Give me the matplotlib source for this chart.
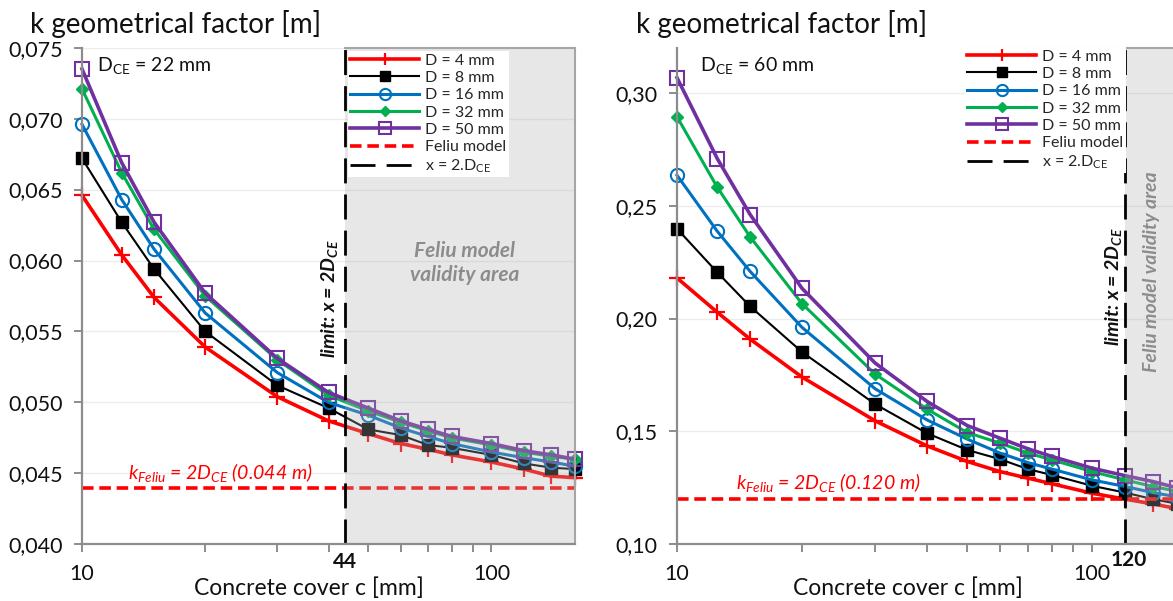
import matplotlib
matplotlib.use("Agg")
import matplotlib.pyplot as plt
from matplotlib.ticker import MultipleLocator, FuncFormatter, LogLocator, NullFormatter, FixedLocator

plt.rcParams['font.family'] = ['Lato', 'DejaVu Sans']
plt.rcParams['mathtext.fontset'] = 'custom'
plt.rcParams['mathtext.rm'] = 'Lato'
plt.rcParams['mathtext.it'] = 'Lato:italic'
plt.rcParams['mathtext.bf'] = 'Lato:bold'
plt.rcParams['mathtext.bfit'] = 'Lato:italic:bold'

# ---------------- data ----------------
cover = [10, 12.5, 15, 20, 30, 40, 50, 60, 70, 80, 100, 120, 140, 160]
series_labels = ['D = 4 mm', 'D = 8 mm', 'D = 16 mm', 'D = 32 mm', 'D = 50 mm']

# D_CE = 22 mm
k22_d4 = [0.0646, 0.0604, 0.0574, 0.0539, 0.0504, 0.0487, 0.0478, 0.0471, 0.0467, 0.0463, 0.0458, 0.0453, 0.0448, 0.0447]
k22_d8 = [0.0672, 0.0627, 0.0594, 0.0550, 0.0512, 0.0496, 0.0481, 0.0477, 0.0470, 0.0468, 0.0463, 0.0457, 0.0454, 0.0453]
k22_d16 = [0.0696, 0.0643, 0.0608, 0.0563, 0.0521, 0.0500, 0.0491, 0.0482, 0.0476, 0.0471, 0.0465, 0.0461, 0.0458, 0.0455]
k22_d32 = [0.0721, 0.0662, 0.0622, 0.0575, 0.0530, 0.0505, 0.0494, 0.0486, 0.0480, 0.0475, 0.0470, 0.0465, 0.0462, 0.0460]
k22_d50 = [0.0735, 0.0669, 0.0627, 0.0577, 0.0531, 0.0507, 0.0496, 0.0487, 0.0481, 0.0476, 0.0471, 0.0466, 0.0463, 0.0460]

# D_CE = 60 mm
k60_d4 = [0.218, 0.2028, 0.1909, 0.1741, 0.1547, 0.1436, 0.1367, 0.1322, 0.1293, 0.1268, 0.1226, 0.1200, 0.1179, 0.1158]
k60_d8 = [0.2398, 0.2205, 0.2054, 0.1852, 0.1621, 0.1492, 0.1418, 0.1377, 0.1333, 0.1307, 0.1259, 0.1229, 0.1200, 0.1180]
k60_d16 = [0.2635, 0.2387, 0.2209, 0.1961, 0.1689, 0.1551, 0.1466, 0.1404, 0.1362, 0.1333, 0.1285, 0.1256, 0.1229, 0.1210]
k60_d32 = [0.2894, 0.2582, 0.2362, 0.2066, 0.1754, 0.1599, 0.1495, 0.1448, 0.1404, 0.1374, 0.1322, 0.1285, 0.1256, 0.1235]
k60_d50 = [0.3067, 0.2709, 0.2461, 0.2134, 0.1803, 0.1633, 0.1526, 0.1470, 0.1423, 0.1389, 0.1337, 0.1304, 0.1278, 0.1250]

dce_left = 22
dce_right = 60
feliu_left = 0.044
feliu_right = 0.120
limit_left = 44
limit_right = 120

# ---------------- styles ----------------
styles = [
    dict(color='#FF0000', marker='+', ms=11, mew=1.6, lw=2.6, mfc='#FF0000'),
    dict(color='#000000', marker='s', ms=8.5, mew=1, lw=1.5, mfc='#000000'),
    dict(color='#0070C0', marker='o', ms=9.5, mew=1.5, lw=2.2, mfc='none'),
    dict(color='#00B050', marker='D', ms=6.5, mew=1, lw=2.2, mfc='#00B050'),
    dict(color='#7030A0', marker='s', ms=10.5, mew=1.5, lw=2.6, mfc='none'),
]

W, H = 1173, 601
fig = plt.figure(figsize=(W / 100, H / 100), dpi=100)

def fx(px):
    return px / W

def fy(py):
    return 1 - py / H

axL = fig.add_axes([fx(82), fy(544.3), 493 / W, 496.6 / H])
axR = fig.add_axes([fx(677), fy(544.3), 500 / W, 496.6 / H])

spine_col = '#8c8c8c'
shade_fc = (0.69, 0.69, 0.69, 0.30)


def setup(ax, ylo, yhi, ystep, fmt):
    ax.set_xscale('log')
    ax.set_xlim(10, 160)
    ax.set_ylim(ylo, yhi)
    ax.xaxis.set_major_locator(FixedLocator([10, 100]))
    ax.xaxis.set_major_formatter(FuncFormatter(lambda v, p: f'{v:.0f}'))
    ax.xaxis.set_minor_locator(LogLocator(base=10, subs=(2, 3, 4, 5, 6, 7, 8, 9)))
    ax.xaxis.set_minor_formatter(NullFormatter())
    ax.yaxis.set_major_locator(MultipleLocator(ystep))
    ax.yaxis.set_major_formatter(FuncFormatter(lambda v, p: fmt.format(v).replace('.', ',')))
    for s in ['top', 'right']:
        ax.spines[s].set_visible(False)
    for s in ['left', 'bottom']:
        ax.spines[s].set_color(spine_col)
        ax.spines[s].set_linewidth(1.6)
        ax.spines[s].set_zorder(6)
    ax.tick_params(axis='both', which='both', direction='out', color=spine_col, width=1.4, length=6,
                   labelsize=15.5, labelcolor='#111111')
    ax.tick_params(axis='x', which='major', pad=8)
    ax.tick_params(axis='y', which='major', pad=8)
    ax.grid(axis='y', color='#ececec', lw=1.0, zorder=0)
    ax.set_axisbelow(True)


def draw(ax, data, feliu, limit, ylo, yhi):
    handles = []
    for vals, lab, st in zip(data, series_labels, styles):
        h, = ax.plot(cover, vals, label=lab, zorder=2, clip_on=False, **st)
        handles.append(h)
    hf, = ax.plot([10, 160], [feliu, feliu], ls=(0, (3.2, 1.6)), color='#FF0000', lw=2.6,
                  label='Feliu model', zorder=2)
    ax.axvspan(limit, 160, facecolor=shade_fc, edgecolor='none', zorder=3)
    hl = ax.axvline(limit, color='#000000', lw=2.0, ls=(0, (9, 4)), zorder=4,
                    label=r'x = 2.D$_{\mathregular{CE}}$')
    ax.plot([160, 160], [ylo, yhi], color='#a6a6a6', lw=1.5, zorder=4, clip_on=False)
    handles += [hf, hl]
    return handles


setup(axL, 0.040, 0.075, 0.005, '{:.3f}')
setup(axR, 0.10, 0.32, 0.05, '{:.2f}')

hL = draw(axL, [k22_d4, k22_d8, k22_d16, k22_d32, k22_d50], feliu_left, limit_left, 0.040, 0.075)
hR = draw(axR, [k60_d4, k60_d8, k60_d16, k60_d32, k60_d50], feliu_right, limit_right, 0.10, 0.32)

axL.plot([limit_left, 160], [0.075, 0.075], color='#a6a6a6', lw=1.5, zorder=4, clip_on=False)
axR.plot([50, 160], [0.32, 0.32], color='#a6a6a6', lw=1.5, zorder=4, clip_on=False)


def legend(ax, handles, x0, y0):
    leg = ax.legend(handles=handles, loc='upper left', bbox_to_anchor=(fx(x0), fy(y0)),
                    bbox_transform=fig.transFigure, fontsize=11.5, numpoints=1,
                    handlelength=4.3, handletextpad=0.4, labelspacing=0.2,
                    borderpad=0.15, borderaxespad=0, frameon=True, fancybox=False,
                    facecolor='white', edgecolor='none', framealpha=1, markerscale=0.85)
    for t in leg.get_texts():
        t.set_color('#262626')
    leg.set_zorder(10)
    return leg


legend(axL, hL, 348, 51)
legend(axR, hR, 965, 47)

# titles (y-axis labels at top)
fig.text(fx(30), fy(33), 'k geometrical factor [m]', fontsize=20, color='#111111', va='baseline', ha='left')
fig.text(fx(636), fy(33), 'k geometrical factor [m]', fontsize=20, color='#111111', va='baseline', ha='left')

# x labels
fig.text(fx(309), fy(595), 'Concrete cover c [mm]', fontsize=16.5, color='#111111', va='baseline', ha='center')
fig.text(fx(908), fy(595), 'Concrete cover c [mm]', fontsize=16.5, color='#111111', va='baseline', ha='center')

# D_CE labels
fig.text(fx(97), fy(65), r'D$_{\mathregular{CE}}$ = ' + f'{dce_left} mm', fontsize=14, color='#111111',
         va='center', ha='left')
fig.text(fx(700), fy(65), r'D$_{\mathregular{CE}}$ = ' + f'{dce_right} mm', fontsize=14, color='#111111',
         va='center', ha='left')

# limit values under axis
fig.text(fx(345), fy(562), f'{limit_left}', fontsize=15, fontweight='bold', color='#111111',
         ha='center', va='center')
fig.text(fx(1129), fy(560), f'{limit_right}', fontsize=15, fontweight='bold', color='#111111',
         ha='center', va='center')

# limit labels (rotated)
lim_txt = r'limit: x = 2D$_{\mathbfit{CE}}$'
fig.text(fx(329), fy(299), lim_txt, fontsize=14, fontweight='bold', style='italic', color='#111111',
         rotation=90, ha='center', va='center')
fig.text(fx(1113), fy(287), lim_txt, fontsize=14, fontweight='bold', style='italic', color='#111111',
         rotation=90, ha='center', va='center')

# validity area
fig.text(fx(465), fy(263), 'Feliu model\nvalidity area', fontsize=15, fontweight='bold', style='italic',
         color='#8c8c8c', ha='center', va='center', linespacing=1.25)
fig.text(fx(1152), fy(272), 'Feliu model validity area', fontsize=14, fontweight='bold', style='italic',
         color='#8c8c8c', rotation=90, ha='center', va='center')

# Feliu labels
fig.text(fx(220), fy(473), r'k$_{Feliu}$ = 2D$_{CE}$ (' + f'{feliu_left:.3f}' + ' m)', fontsize=14,
         style='italic', color='#FF0000', ha='center', va='center')
fig.text(fx(828), fy(483), r'k$_{Feliu}$ = 2D$_{CE}$ (' + f'{feliu_right:.3f}' + ' m)', fontsize=14,
         style='italic', color='#FF0000', ha='center', va='center')

fig.savefig('out.png', dpi=100)
